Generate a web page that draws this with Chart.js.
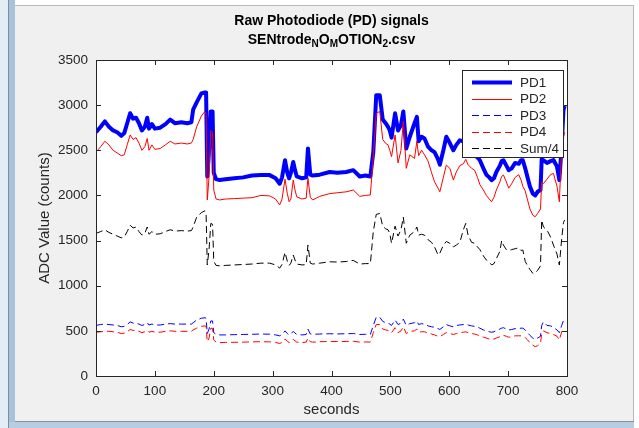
<!DOCTYPE html>
<html>
<head>
<meta charset="utf-8">
<script src="https://cdn.jsdelivr.net/npm/chart.js@4"></script>
<style>
  body { margin: 0; background: #fff; font-family: "Liberation Sans", Arial, sans-serif; }
  #page { position: relative; width: 639px; height: 428px; overflow: hidden; }
  .edge { position: absolute; }
  #title { position: absolute; left: 96px; width: 471px; top: 11px; text-align: center;
           font-weight: bold; font-size: 14px; color: #000; line-height: 19px; }
  #title sub { font-size: 10px; vertical-align: -3px; line-height: 0; }
  canvas { position: absolute; left: 0; top: 0; }
</style>
</head>
<body>
<div id="page">
  <div class="edge" style="left:0;top:0;width:8px;height:428px;background:#e4edf6"></div>
  <div class="edge" style="left:8px;top:0;width:1px;height:428px;background:#7f8c99"></div>
  <div class="edge" style="left:9px;top:0;width:6px;height:428px;background:#a8c2dc"></div>
  <div class="edge" style="left:15px;top:5px;width:618px;height:1px;background:#b9b9b9"></div>
  <div class="edge" style="left:15px;top:6px;width:618px;height:415px;background:#f0f0f0"></div>
  <div class="edge" style="left:633px;top:5px;width:1px;height:417px;background:#b9b9b9"></div>
  <div class="edge" style="left:15px;top:421px;width:619px;height:1px;background:#8d8d8d"></div>
  <div class="edge" style="left:9px;top:422px;width:625px;height:6px;background:#b7cde3"></div>
  <canvas id="chart" width="639" height="428"></canvas>
  <div id="title">Raw Photodiode (PD) signals<br>SENtrode<sub>N</sub>O<sub>M</sub>OTION<sub>2</sub>.csv</div>
</div>
<script>
// time axis (seconds) and the five signals
const seconds = [
  0, 8, 15, 22, 29, 36, 43, 48, 53, 58,
  63, 68, 73, 78, 83, 87, 90, 95, 100, 109,
  118, 126, 134, 145, 155, 162, 165, 171, 179, 185,
  187, 189, 192, 195, 198, 200, 204, 210, 220, 235,
  250, 265, 280, 295, 305, 312, 316, 321, 325, 328,
  331, 335, 338, 341, 350, 357, 360, 364, 368, 380,
  397, 410, 425, 437, 448, 458, 466, 471, 476, 482,
  487, 492, 496, 499, 502, 508, 513, 518, 522, 527,
  533, 541, 545, 548, 553, 558, 564, 570, 575, 581,
  584, 590, 595, 601, 607, 612, 618, 624, 628, 632,
  638, 643, 648, 652, 658, 663, 668, 672, 676, 680,
  686, 689, 692, 697, 701, 706, 712, 718, 722, 725,
  729, 733, 737, 742, 746, 750, 755, 757, 760, 766,
  772, 777, 783, 787, 791, 794, 796
];
const pd1 = [
  2700, 2760, 2820, 2760, 2720, 2700, 2660, 2690, 2800, 2910,
  2850, 2860, 2800, 2720, 2760, 2860, 2740, 2790, 2740, 2750,
  2790, 2840, 2800, 2810, 2800, 2810, 2950, 3030, 3130, 3140,
  3140, 2210, 2500, 2930, 2930, 2250, 2180, 2170, 2180, 2190,
  2200, 2220, 2225, 2225, 2190, 2130, 2200, 2390, 2250, 2190,
  2250, 2370, 2280, 2210, 2190, 2200, 2520, 2230, 2220, 2230,
  2260, 2250, 2260, 2280, 2210, 2220, 2210, 2480, 3110, 3110,
  2840, 2800, 2760, 2720, 2640, 2910, 2720, 2780, 2930, 2520,
  2650, 2800, 2870, 2600, 2650, 2630, 2540, 2500, 2480, 2400,
  2340, 2500, 2650, 2580, 2500, 2560, 2610, 2600, 2620, 2560,
  2480, 2450, 2420, 2390, 2300, 2230, 2200, 2170, 2190, 2260,
  2330, 2380, 2390, 2330, 2280, 2300, 2360, 2350, 2390, 2390,
  2300, 2200, 2100, 2020, 2000, 2040, 2060, 2400, 2390, 2360,
  2380, 2392, 2320, 2170, 2550, 2946, 2990
];
const pd2 = [
  2480, 2540, 2600, 2560, 2500, 2470, 2440, 2450, 2560, 2670,
  2620, 2640, 2580, 2500, 2540, 2630, 2500, 2560, 2510, 2520,
  2560, 2600, 2570, 2580, 2570, 2580, 2620, 2760, 2880, 2930,
  2900, 1950, 2200, 2720, 2700, 2060, 1960, 1950, 1960, 1965,
  1970, 1975, 2000, 1995, 1960, 1895, 1960, 2180, 2020, 1930,
  1960, 2170, 2060, 1985, 1960, 1970, 2190, 1980, 1950, 1990,
  2020, 2030, 2040, 2060, 1990, 2000, 2005, 2430, 2910, 2930,
  2620, 2576, 2560, 2500, 2430, 2670, 2360, 2500, 2820, 2300,
  2450, 2410, 2600, 2440, 2500, 2450, 2380, 2250, 2150, 2080,
  2040, 2200, 2336, 2300, 2170, 2260, 2330, 2350, 2400, 2340,
  2300, 2280, 2200, 2120, 2060, 2000, 1960, 1930, 1980, 2060,
  2150, 2210, 2226, 2150, 2080, 2130, 2200, 2230, 2170, 2100,
  2050, 1950, 1850, 1780, 1764, 1800, 1850, 2150, 2130, 2180,
  2230, 2244, 2100, 1930, 2540, 2650, 2700
];
const pd3 = [
  560, 570, 575, 570, 565, 560, 545, 550, 570, 600,
  585, 585, 575, 560, 570, 590, 565, 575, 565, 565,
  575, 580, 575, 575, 575, 575, 590, 620, 640, 645,
  640, 470, 520, 610, 610, 480, 460, 455, 455, 458,
  460, 462, 465, 463, 455, 445, 460, 500, 470, 455,
  465, 495, 475, 460, 455, 460, 520, 465, 462, 465,
  468, 466, 468, 470, 460, 462, 460, 560, 650, 650,
  605, 590, 585, 575, 560, 620, 570, 585, 630, 560,
  580, 590, 610, 570, 580, 575, 555, 545, 540, 525,
  515, 545, 570, 555, 545, 560, 565, 570, 575, 565,
  555, 550, 540, 530, 510, 500, 490, 485, 490, 505,
  520, 530, 535, 520, 510, 515, 525, 525, 530, 530,
  510, 480, 450, 420, 406, 420, 440, 560, 600, 560,
  555, 540, 510, 480, 560, 615, 620
];
const pd4 = [
  485, 490, 495, 495, 490, 485, 470, 475, 490, 515,
  505, 505, 495, 480, 490, 505, 485, 495, 485, 485,
  495, 500, 495, 495, 495, 495, 510, 530, 550, 555,
  550, 380, 420, 530, 525, 400, 375, 370, 372, 373,
  375, 378, 380, 378, 372, 360, 372, 410, 385, 370,
  375, 405, 390, 375, 370, 375, 420, 380, 375, 380,
  382, 382, 382, 385, 375, 377, 376, 480, 570, 570,
  520, 510, 505, 495, 480, 535, 480, 500, 545, 470,
  495, 500, 520, 485, 490, 490, 475, 465, 455, 440,
  435, 460, 480, 470, 460, 470, 480, 485, 490, 480,
  470, 465, 455, 445, 430, 420, 410, 405, 410, 420,
  435, 445, 450, 440, 430, 435, 445, 445, 445, 440,
  425, 400, 370, 340, 325, 335, 360, 470, 500, 480,
  470, 460, 440, 400, 490, 525, 528
];
const sum4 = [
  1580, 1600, 1620, 1590, 1570, 1550, 1530, 1540, 1600, 1670,
  1640, 1650, 1600, 1560, 1580, 1650, 1570, 1600, 1570, 1575,
  1600, 1620, 1605, 1610, 1605, 1610, 1650, 1760, 1810, 1830,
  1800, 1230, 1400, 1690, 1680, 1270, 1225, 1220, 1225, 1230,
  1235, 1240, 1250, 1250, 1230, 1195, 1235, 1370, 1270, 1225,
  1250, 1340, 1285, 1240, 1230, 1235, 1450, 1250, 1240, 1250,
  1265, 1262, 1268, 1280, 1240, 1245, 1245, 1600, 1790, 1800,
  1660, 1630, 1620, 1580, 1470, 1660, 1550, 1620, 1760, 1470,
  1560, 1600, 1650, 1560, 1570, 1560, 1510, 1480, 1430, 1340,
  1360, 1450, 1490, 1470, 1430, 1450, 1480, 1620, 1690, 1560,
  1480, 1470, 1430, 1400, 1330, 1285, 1260, 1230, 1245, 1300,
  1380, 1500, 1450, 1400, 1390, 1400, 1410, 1420, 1390, 1395,
  1270, 1220, 1180, 1137, 1140, 1170, 1220, 1727, 1650, 1617,
  1540, 1450, 1350, 1229, 1520, 1700, 1727
];
const xTicks = [0, 100, 200, 300, 400, 500, 600, 700, 800];
const yTicks = [0, 500, 1000, 1500, 2000, 2500, 3000, 3500];

const axisColor = '#262626';
const tickFont = { family: 'Liberation Sans', size: 13.5 };

function points(values) {
  return seconds.map((s, i) => ({ x: s, y: values[i] }));
}

// white plot area, box with inward ticks, and the legend in the upper right
const matlabAxes = {
  id: 'matlabAxes',
  beforeDatasetsDraw(chart) {
    const a = chart.chartArea;
    const ctx = chart.ctx;
    ctx.save();
    ctx.fillStyle = '#fff';
    ctx.fillRect(a.left, a.top, a.right - a.left, a.bottom - a.top);
    ctx.restore();
  },
  afterDraw(chart) {
    const a = chart.chartArea;
    const ctx = chart.ctx;
    const xs = chart.scales.x, ys = chart.scales.y;
    ctx.save();
    ctx.strokeStyle = axisColor;
    ctx.lineWidth = 1;
    ctx.strokeRect(Math.round(a.left) + 0.5, Math.round(a.top) + 0.5,
                   Math.round(a.right - a.left), Math.round(a.bottom - a.top));
    ctx.beginPath();
    xTicks.forEach(v => {
      const px = Math.round(xs.getPixelForValue(v)) + 0.5;
      ctx.moveTo(px, a.bottom); ctx.lineTo(px, a.bottom - 5);
      ctx.moveTo(px, a.top); ctx.lineTo(px, a.top + 5);
    });
    yTicks.forEach(v => {
      const py = Math.round(ys.getPixelForValue(v)) + 0.5;
      ctx.moveTo(a.left, py); ctx.lineTo(a.left + 5, py);
      ctx.moveTo(a.right, py); ctx.lineTo(a.right - 5, py);
    });
    ctx.stroke();

    // legend
    const lx = 462, ly = 70, lw = 101, lh = 87;
    ctx.fillStyle = '#fff';
    ctx.fillRect(lx, ly, lw, lh);
    ctx.strokeStyle = axisColor;
    ctx.strokeRect(lx + 0.5, ly + 0.5, lw, lh);
    ctx.font = '13.5px "Liberation Sans"';
    ctx.textBaseline = 'middle';
    chart.data.datasets.forEach((ds, i) => {
      const y = ly + 12 + i * 16.5;
      ctx.beginPath();
      ctx.strokeStyle = ds.borderColor;
      ctx.lineWidth = ds.borderWidth;
      ctx.setLineDash(ds.borderDash || []);
      ctx.moveTo(472, Math.round(y) + 0.5);
      ctx.lineTo(512, Math.round(y) + 0.5);
      ctx.stroke();
      ctx.setLineDash([]);
      ctx.fillStyle = axisColor;
      ctx.fillText(ds.label, 520, y + 1);
    });
    ctx.restore();
  }
};

new Chart(document.getElementById('chart'), {
  type: 'line',
  data: {
    datasets: [
      { label: 'PD1', data: points(pd1), borderColor: '#0000ff', borderWidth: 4, order: 5 },
      { label: 'PD2', data: points(pd2), borderColor: '#ff0000', borderWidth: 1, order: 4 },
      { label: 'PD3', data: points(pd3), borderColor: '#0000ff', borderWidth: 1, borderDash: [7, 4], order: 3 },
      { label: 'PD4', data: points(pd4), borderColor: '#ff0000', borderWidth: 1, borderDash: [7, 4], order: 2 },
      { label: 'Sum/4', data: points(sum4), borderColor: '#000000', borderWidth: 1, borderDash: [7, 4], order: 1 }
    ]
  },
  options: {
    responsive: false,
    animation: false,
    devicePixelRatio: 1,
    elements: { point: { radius: 0 }, line: { tension: 0, borderJoinStyle: 'round' } },
    layout: { padding: { left: 30, top: 60, right: 72, bottom: 6 } },
    plugins: { legend: { display: false }, tooltip: { enabled: false } },
    scales: {
      x: {
        type: 'linear', min: 0, max: 800,
        afterBuildTicks: s => { s.ticks = xTicks.map(v => ({ value: v })); },
        afterFit: s => { s.height = 46; },
        grid: { display: false, drawTicks: false },
        border: { display: false },
        ticks: { color: axisColor, font: tickFont, padding: 7, maxRotation: 0, callback: v => String(v) },
        title: { display: true, text: 'seconds', color: axisColor,
                 font: { family: 'Liberation Sans', size: 15 }, padding: { top: 0, bottom: 3 } }
      },
      y: {
        type: 'linear', min: 0, max: 3500,
        afterBuildTicks: s => { s.ticks = yTicks.map(v => ({ value: v })); },
        afterFit: s => { s.width = 66; },
        grid: { display: false, drawTicks: false },
        border: { display: false },
        ticks: { color: axisColor, font: tickFont, padding: 8, callback: v => String(v) },
        title: { display: true, text: 'ADC Value (counts)', color: axisColor,
                 font: { family: 'Liberation Sans', size: 15 }, padding: { top: 6, bottom: 0 } }
      }
    }
  },
  plugins: [matlabAxes]
});
</script>
</body>
</html>
